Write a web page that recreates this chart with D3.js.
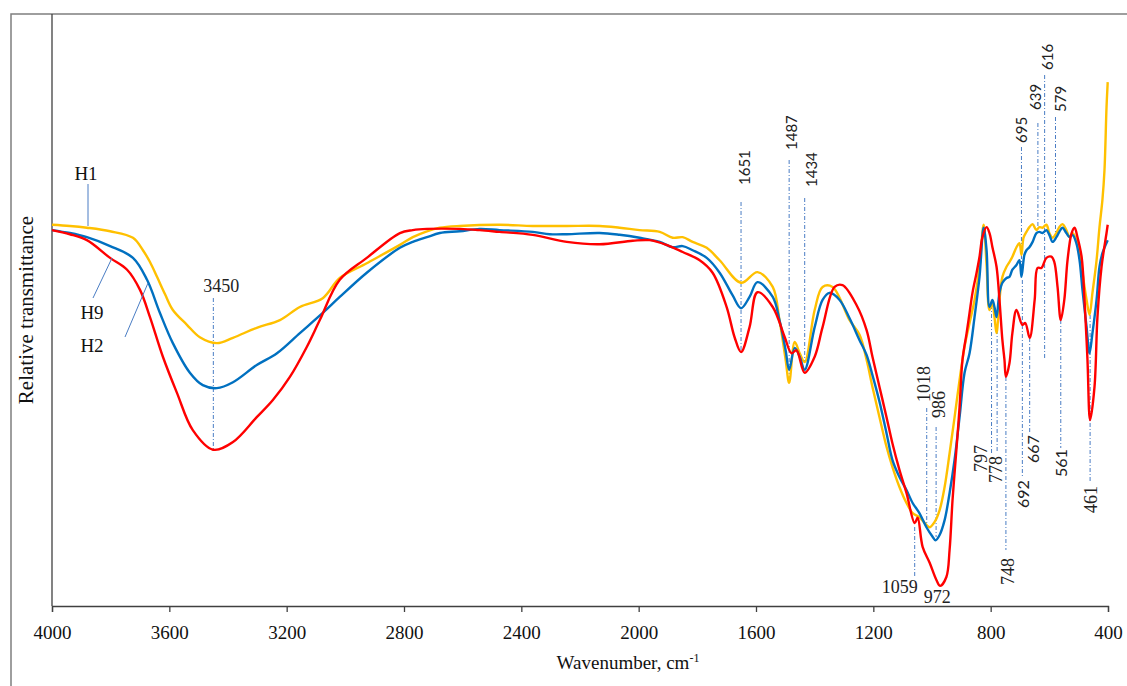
<!DOCTYPE html>
<html>
<head>
<meta charset="utf-8">
<script src="https://cdn.jsdelivr.net/npm/d3@7"></script>
<style>
  body { margin: 0; background: #fff; }
</style>
</head>
<body>
<script>
// wavenumber (cm-1), relative transmittance (arbitrary, 0-100)
var h1 = [
  [4000,64.4],[3939,64.2],[3881,63.9],[3802,63.3],[3724,62.2],[3690,60.1],[3666,58.1],[3642,55.6],
  [3615,52.7],[3588,50.0],[3540,47.5],[3496,45.4],[3438,44.4],[3383,45.3],[3302,47.0],[3223,48.3],
  [3155,50.5],[3077,52.0],[3019,55.4],[2927,57.9],[2814,61.0],[2770,62.3],[2722,63.3],[2678,63.9],
  [2610,64.2],[2474,64.4],[2361,64.2],[2245,64.2],[2133,64.2],[2065,63.9],[1997,63.5],[1928,63.2],
  [1884,62.2],[1850,62.3],[1816,61.5],[1768,60.5],[1724,58.4],[1651,54.6],[1595,56.4],[1543,53.9],
  [1520,48.3],[1499,41.6],[1487,37.7],[1468,44.6],[1451,42.7],[1434,41.2],[1400,50.0],[1373,53.9],
  [1339,53.9],[1281,48.3],[1247,45.8],[1223,41.6],[1203,37.0],[1179,31.9],[1155,26.9],[1135,23.5],
  [1111,20.1],[1087,17.4],[1066,15.7],[1043,15.0],[1019,13.7],[1008,13.3],[991,14.2],[974,16.2],
  [957,20.1],[940,25.8],[923,31.9],[906,38.2],[889,43.8],[872,47.8],[855,51.7],[838,57.3],
  [824,64.4],[814,57.6],[804,50.0],[794,51.2],[787,48.8],[780,46.1],[770,51.7],[760,55.6],
  [746,57.3],[736,58.1],[726,59.0],[712,60.6],[702,61.3],[695,59.3],[688,62.2],[678,63.2],
  [668,64.0],[657,64.5],[644,63.5],[634,64.0],[623,63.9],[610,64.4],[600,63.0],[589,62.2],
  [576,63.0],[566,64.0],[555,64.5],[542,63.5],[531,62.3],[521,63.0],[508,61.8],[497,60.1],
  [487,56.3],[473,51.7],[463,49.2],[453,52.9],[439,58.4],[429,64.0],[419,68.6],[412,73.6],
  [405,84.3],[401,88.5]
];

var h9 = [
  [4000,63.5],[3939,63.0],[3881,62.3],[3802,60.8],[3724,58.8],[3676,55.1],[3632,49.5],[3588,44.4],
  [3530,39.4],[3486,37.3],[3438,36.8],[3383,37.8],[3302,40.7],[3233,42.7],[3155,46.1],[3077,49.5],
  [3019,52.2],[2927,56.3],[2814,60.5],[2770,61.5],[2722,62.3],[2678,63.0],[2610,63.3],[2542,63.7],
  [2474,63.5],[2361,63.2],[2303,62.8],[2245,62.8],[2133,63.0],[2065,62.7],[1997,62.2],[1928,61.5],
  [1884,60.6],[1850,60.8],[1816,60.1],[1768,58.8],[1724,56.3],[1680,52.5],[1651,50.3],[1622,52.2],
  [1595,54.7],[1543,52.2],[1520,48.3],[1499,43.2],[1487,39.9],[1468,43.6],[1451,42.1],[1434,39.9],
  [1400,47.1],[1373,51.7],[1349,52.9],[1315,51.7],[1281,48.6],[1247,44.9],[1223,42.4],[1203,39.0],
  [1179,34.5],[1155,29.2],[1135,24.7],[1111,21.8],[1087,19.6],[1066,17.4],[1043,15.7],[1019,13.3],
  [998,11.7],[988,11.1],[974,12.0],[957,14.5],[940,19.1],[923,24.7],[906,31.9],[889,39.4],
  [872,42.7],[855,48.8],[838,55.6],[824,63.9],[814,60.1],[804,50.5],[794,51.7],[787,50.5],
  [780,48.8],[770,52.9],[760,54.6],[746,55.4],[736,55.6],[726,56.8],[712,57.6],[702,58.4],
  [695,55.6],[685,59.3],[678,60.1],[668,60.6],[657,61.5],[644,63.0],[634,63.2],[623,63.0],
  [610,63.5],[600,62.7],[589,61.5],[576,62.3],[566,63.2],[555,63.9],[542,63.0],[531,62.3],
  [521,62.7],[508,61.3],[497,58.4],[487,53.4],[473,47.1],[463,42.7],[453,46.1],[439,51.7],
  [429,57.3],[419,59.6],[401,61.8]
];

var h2 = [
  [4000,63.5],[3939,62.8],[3881,61.8],[3802,58.8],[3744,56.8],[3700,53.4],[3666,48.8],[3622,42.1],
  [3574,36.0],[3520,29.7],[3451,26.4],[3383,27.7],[3302,31.9],[3247,34.8],[3189,38.7],[3131,43.8],
  [3087,48.3],[3019,55.1],[2927,58.8],[2814,63.0],[2770,63.5],[2722,63.7],[2610,63.7],[2542,63.5],
  [2474,63.2],[2361,62.7],[2245,61.5],[2133,61.1],[2020,61.7],[1963,61.8],[1905,61.0],[1850,59.8],
  [1792,58.4],[1748,56.3],[1700,50.5],[1673,45.4],[1651,42.9],[1622,47.1],[1595,53.0],[1543,50.5],
  [1502,45.4],[1479,42.7],[1462,43.2],[1434,39.4],[1400,42.1],[1373,47.1],[1332,53.9],[1305,54.2],
  [1257,50.8],[1223,46.6],[1203,42.1],[1179,37.0],[1155,31.9],[1135,27.5],[1111,23.0],[1087,19.1],
  [1059,14.0],[1049,14.9],[1032,10.0],[1008,7.3],[985,4.4],[972,3.4],[951,4.9],[940,9.5],
  [930,17.9],[916,26.9],[906,33.6],[896,41.6],[882,46.1],[872,49.5],[862,52.9],[848,56.3],
  [838,59.0],[828,62.3],[814,64.0],[804,63.0],[794,60.6],[780,57.3],[770,51.7],[760,44.9],
  [753,41.6],[748,38.7],[736,41.0],[726,46.1],[712,50.0],[692,47.5],[682,47.8],[667,45.3],
  [650,51.7],[640,57.1],[627,57.1],[610,58.8],[593,59.0],[583,58.1],[572,53.9],[561,48.3],
  [549,51.7],[538,58.4],[524,63.0],[514,63.9],[504,62.3],[490,59.0],[480,51.7],[470,41.6],
  [461,31.4],[446,37.0],[436,48.8],[422,57.3],[405,63.0],[401,64.4]
];

var xTicks = [4000, 3600, 3200, 2800, 2400, 2000, 1600, 1200, 800, 400];

// peak wavenumbers marked on the chart
var upperPeaks = [1651, 1487, 1434, 695, 639, 616, 579];
var lowerPeaks = [1018, 986, 797, 778, 748, 692, 667, 561, 461];
var flatPeaks = [3450, 1059, 972];

var SERIF = '"Liberation Serif", "Times New Roman", serif';
var SANS = 'Lato, "Liberation Sans", sans-serif';

var width = 1127, height = 686;
var margin = {left: 52, right: 1108, top: 14, bottom: 606};

var x = d3.scaleLinear().domain([4000, 400]).range([margin.left, margin.right]);
var y = d3.scaleLinear().domain([0, 100]).range([margin.bottom, margin.top]);

var svg = d3.select("body").append("svg")
    .attr("width", width)
    .attr("height", height);

// outer frame
svg.append("path")
    .attr("d", "M11," + height + "V14H" + width)
    .attr("fill", "none")
    .attr("stroke", "#7f7f7f")
    .attr("stroke-width", 1.5);

// y axis line (no ticks)
svg.append("line")
    .attr("x1", margin.left).attr("x2", margin.left)
    .attr("y1", margin.top).attr("y2", margin.bottom)
    .attr("stroke", "#404040").attr("stroke-width", 1.3);

// x axis
var xAxis = svg.append("g")
    .attr("transform", "translate(0," + margin.bottom + ")")
    .call(d3.axisBottom(x).tickValues(xTicks).tickFormat(d3.format("d"))
      .tickSizeOuter(0).tickSize(6).tickPadding(14));
xAxis.select(".domain").attr("stroke", "#404040").attr("stroke-width", 1.3);
xAxis.selectAll(".tick line").attr("stroke", "#404040").attr("stroke-width", 1.3);
xAxis.selectAll("text")
    .style("font-family", SERIF)
    .style("font-size", "19px")
    .attr("fill", "#111");

var title = svg.append("text")
    .attr("x", 628).attr("y", 669)
    .attr("text-anchor", "middle")
    .style("font-family", SERIF)
    .style("font-size", "19px")
    .attr("fill", "#111")
    .text("Wavenumber, cm");
title.append("tspan")
    .attr("dy", -7)
    .style("font-size", "12px")
    .text("-1");

svg.append("text")
    .attr("transform", "translate(33,310) rotate(-90)")
    .attr("text-anchor", "middle")
    .style("font-family", SERIF)
    .style("font-size", "21px")
    .attr("fill", "#111")
    .text("Relative transmittance");

// dashed peak markers: [top, bottom] of the line in px, label anchor (rotated text starts at bottom)
var dash = "4,2,1,2";
var markerColor = "#4a7dc4";
var upperLayout = {
  1651: {y1: 202, y2: 353, ly: 185, dx: 3},
  1487: {y1: 160, y2: 383, ly: 150, dx: 2},
  1434: {y1: 198, y2: 362, ly: 187, dx: 6},
  695:  {y1: 147, y2: 277, ly: 143, dx: 0},
  639:  {y1: 123, y2: 227, ly: 110, dx: -3},
  616:  {y1: 75,  y2: 360, ly: 70,  dx: 2},
  579:  {y1: 117, y2: 235, ly: 112, dx: 5}
};
var lowerLayout = {
  1018: {y1: 408, y2: 527, ly: 402, dx: -3, font: "serif"},
  986:  {y1: 427, y2: 537, ly: 418, dx: 3, font: "serif"},
  797:  {y1: 305, y2: 455, ly: 472, dx: -11, font: "serif"},
  778:  {y1: 330, y2: 453, ly: 483, dx: -1, font: "serif"},
  748:  {y1: 377, y2: 550, ly: 585, dx: 2, font: "serif"},
  692:  {y1: 280, y2: 477, ly: 508, dx: 0, font: "sans"},
  667:  {y1: 338, y2: 433, ly: 463, dx: 3, font: "sans"},
  561:  {y1: 320, y2: 448, ly: 477, dx: 0, font: "sans"},
  461:  {y1: 315, y2: 483, ly: 513, dx: 1, font: "serif"}
};
var flatLayout = {
  3450: {y1: 298, y2: 450, lx: 8, ly: 292},
  1059: {y1: 527, y2: 577, lx: -15, ly: 593},
  972:  {y1: null, y2: null, lx: -3, ly: 603}
};

var markers = svg.append("g");

upperPeaks.forEach(function(p) {
  var l = upperLayout[p], px = x(p);
  markers.append("line")
      .attr("x1", px).attr("x2", px).attr("y1", l.y1).attr("y2", l.y2)
      .attr("stroke", markerColor).attr("stroke-width", 1).attr("stroke-dasharray", dash);
  markers.append("text")
      .attr("transform", "translate(" + (px + l.dx) + "," + l.ly + ") rotate(-90)")
      .attr("dominant-baseline", "central")
      .style("font-family", SANS)
      .style("font-size", "15px")
      .attr("fill", "#222")
      .text(p);
});

lowerPeaks.forEach(function(p) {
  var l = lowerLayout[p], px = x(p);
  markers.append("line")
      .attr("x1", px).attr("x2", px).attr("y1", l.y1).attr("y2", l.y2)
      .attr("stroke", markerColor).attr("stroke-width", 1).attr("stroke-dasharray", dash);
  markers.append("text")
      .attr("transform", "translate(" + (px + l.dx) + "," + l.ly + ") rotate(-90)")
      .attr("dominant-baseline", "central")
      .style("font-family", l.font === "serif" ? SERIF : SANS)
      .style("font-size", l.font === "serif" ? "18px" : "16px")
      .attr("fill", "#222")
      .text(p);
});

flatPeaks.forEach(function(p) {
  var l = flatLayout[p], px = x(p);
  if (l.y1 !== null) {
    markers.append("line")
        .attr("x1", px).attr("x2", px).attr("y1", l.y1).attr("y2", l.y2)
        .attr("stroke", markerColor).attr("stroke-width", 1).attr("stroke-dasharray", dash);
  }
  markers.append("text")
      .attr("x", px + l.lx).attr("y", l.ly)
      .attr("text-anchor", "middle")
      .style("font-family", SERIF)
      .style("font-size", "18px")
      .attr("fill", "#222")
      .text(p);
});

// spectra
var line = d3.line()
    .x(function(d) { return x(d[0]); })
    .y(function(d) { return y(d[1]); })
    .curve(d3.curveCatmullRom.alpha(0.5));

var series = [
  {name: "H1", data: h1, color: "#FFC000"},
  {name: "H9", data: h9, color: "#0070C0"},
  {name: "H2", data: h2, color: "#FF0000"}
];

svg.append("g").selectAll("path")
    .data(series)
  .enter().append("path")
    .attr("d", function(d) { return line(d.data); })
    .attr("fill", "none")
    .attr("stroke", function(d) { return d.color; })
    .attr("stroke-width", 2.4)
    .attr("stroke-linejoin", "round");

// series callouts
var callouts = [
  {name: "H1", tx: 86, ty: 180, x1: 88, y1: 184, x2: 88, y2: 226},
  {name: "H9", tx: 92, ty: 319, x1: 93, y1: 298, x2: 112, y2: 258},
  {name: "H2", tx: 92, ty: 352, x1: 125, y1: 337, x2: 148, y2: 283}
];
callouts.forEach(function(c) {
  svg.append("line")
      .attr("x1", c.x1).attr("y1", c.y1).attr("x2", c.x2).attr("y2", c.y2)
      .attr("stroke", "#4a7dc4").attr("stroke-width", 1);
  svg.append("text")
      .attr("x", c.tx).attr("y", c.ty)
      .attr("text-anchor", "middle")
      .style("font-family", SERIF)
      .style("font-size", "19px")
      .attr("fill", "#111")
      .text(c.name);
});
</script>
</body>
</html>
